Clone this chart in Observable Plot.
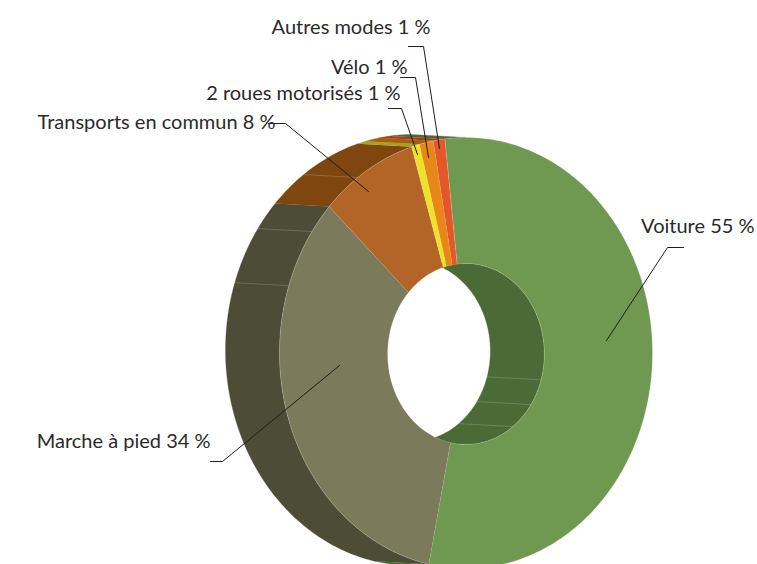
<!DOCTYPE html>
<html lang="fr">
<head>
<meta charset="utf-8">
<style>html,body{margin:0;padding:0;background:#fff;overflow:hidden}</style>
<script src="https://cdn.jsdelivr.net/npm/d3@7"></script>
<script src="https://cdn.jsdelivr.net/npm/@observablehq/plot@0.6"></script>
</head>
<body>
<div id="chart"></div>
<script>
// Data
const categories = ["Voiture", "Marche à pied", "Transports en commun", "2 roues motorisés", "Vélo", "Autres modes"];
const shares = [55, 33.7, 8.4, 0.7, 1.2, 1];
const faceColors = ["#6f9850", "#7b7a5b", "#b26526", "#ece326", "#e98618", "#e4572a"];
const wallColors = ["#4a6b35", "#4c4c37", "#7f470f", "#a9a11b", "#a55f0f", "#a43e1e"];
const labelEnds = [754, 210, 275, 400, 407, 430];
const labelRows = [232, 447, 128, 99, 73, 33];
const leaderXs = [[683, 667, 606], [210, 222, 339], [268, 285, 368], [388, 401, 417], [400, 415, 428], [408, 423, 439]];
const leaderYs = [[247, 247, 340], [461, 461, 365], [123, 123, 191], [108, 108, 154], [77, 77, 157], [46, 46, 148]];
const outerSeams = [324.5, 304.3, 288.2];
const innerSeams = [106.6, 124, 143.3];

// Geometry of the tilted ring
const startAngle = -6.5, cx = 465.5, cy = 352.5, rx = 186.5, ry = 215.5, hole = 0.42, holeDrop = 1, dx = -54, dy = -3;
const pt = (t, r, back = false) => {
  const a = t * Math.PI / 180;
  return {
    x: cx + r * rx * Math.sin(a) + (back ? dx : 0),
    y: cy - r * ry * Math.cos(a) + (back ? dy : 0) + (r < 1 ? holeDrop : 0)
  };
};
const arc = (a, b) => {
  const n = Math.max(2, Math.ceil(Math.abs(b - a)));
  return d3.range(n + 1).map(i => a + (b - a) * i / n);
};
let acc = startAngle;
const slices = categories.map((name, i) => {
  const a = acc; acc += shares[i] * 3.6;
  return {name, a, b: acc, face: faceColors[i], wall: wallColors[i]};
});
const clipRange = (a, b, lo, hi) => {
  const s = Math.max(a, lo), e = Math.min(b, hi);
  return e > s ? [s, e] : null;
};
const facePts = [], wallPts = [];
const wall = (id, color, r, s, e) => {
  for (const t of arc(s, e)) wallPts.push({...pt(t, r), id, color});
  for (const t of arc(e, s)) wallPts.push({...pt(t, r, true), id, color});
};
slices.forEach((d, i) => {
  for (const t of arc(d.a, d.b)) facePts.push({...pt(t, 1), id: i, color: d.face});
  for (const t of arc(d.b, d.a)) facePts.push({...pt(t, hole), id: i, color: d.face});
  for (const [lo, hi] of [[-180, 0], [180, 360]]) {
    const c = clipRange(d.a, d.b, lo, hi);
    if (c) wall(`o${i}${lo}`, d.wall, 1, c[0], c[1]);
  }
  const c = clipRange(d.a, d.b, 0, 180);
  if (c) wall(`i${i}`, d.wall, hole, c[0], c[1]);
});
const seamPts = [];
[[outerSeams, 1], [innerSeams, hole]].forEach(([list, r]) => list.forEach(t => {
  seamPts.push({...pt(t, r), id: `${r}-${t}`}, {...pt(t, r, true), id: `${r}-${t}`});
}));
const leaderPts = leaderXs.flatMap((xs, i) => xs.map((x, j) => ({x, y: leaderYs[i][j], id: i})));
const labels = categories.map((name, i) => ({text: `${name} ${Math.max(1, Math.round(shares[i]))} %`, x: labelEnds[i], y: labelRows[i]}));

const chart = Plot.plot({
  width: 757, height: 564,
  margin: 0,
  x: {domain: [0, 757], range: [0, 757], axis: null},
  y: {domain: [0, 564], range: [0, 564], axis: null},
  style: {background: "#fff", overflow: "hidden", display: "block"},
  marks: [
    Plot.line(wallPts, {x: "x", y: "y", z: "id", fill: "color", stroke: "color", strokeWidth: 0.3, curve: "linear"}),
    Plot.line(seamPts, {x: "x", y: "y", z: "id", stroke: "#fff", strokeOpacity: 0.22, strokeWidth: 0.8}),
    Plot.line(facePts, {x: "x", y: "y", z: "id", fill: "color", stroke: "#fff", strokeOpacity: 0.3, strokeWidth: 0.7, curve: "linear"}),
    Plot.line(leaderPts, {x: "x", y: "y", z: "id", stroke: "#1d1d1b", strokeWidth: 1, strokeLinejoin: "miter"}),
    Plot.text(labels, {x: "x", y: "y", text: "text", textAnchor: "end", lineAnchor: "bottom", fontSize: 20, fontFamily: "Lato, sans-serif", fill: "#2b2a29"})
  ]
});
document.getElementById("chart").append(chart);
</script>
</body>
</html>
